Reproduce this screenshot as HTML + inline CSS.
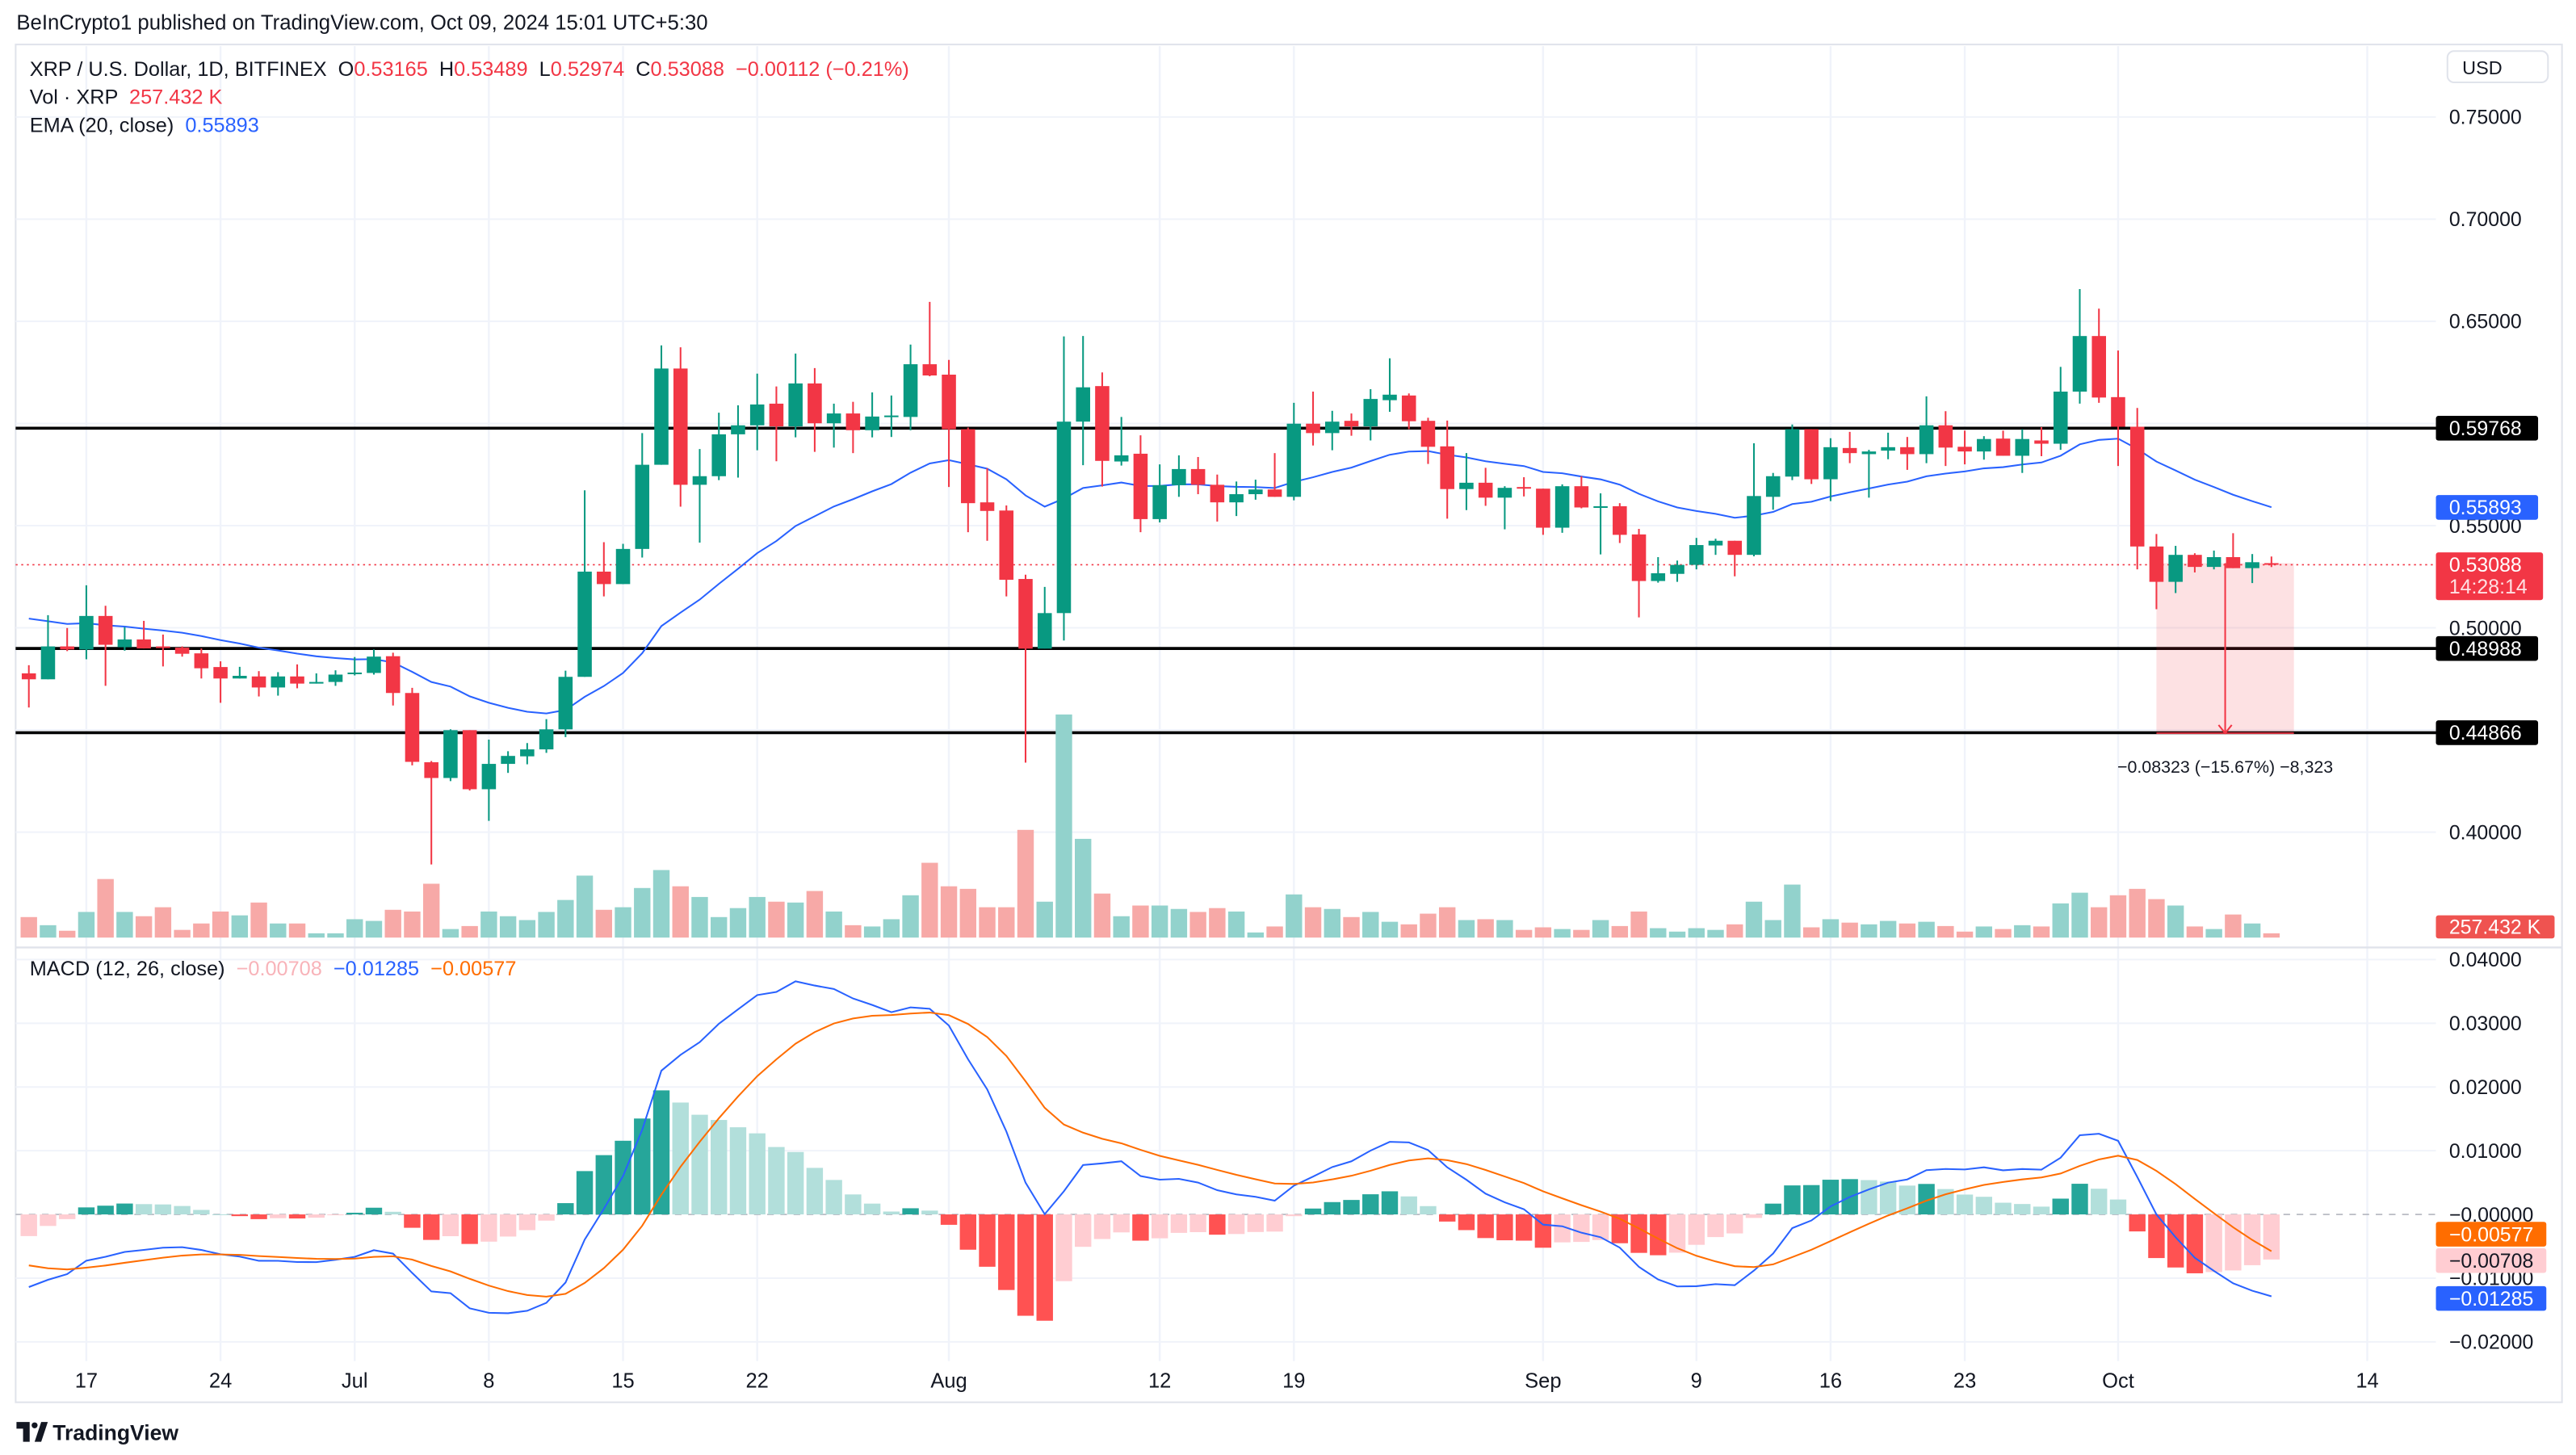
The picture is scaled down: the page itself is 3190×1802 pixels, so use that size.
<!DOCTYPE html>
<html><head><meta charset="utf-8"><title>XRP/USD chart</title>
<style>
html,body{margin:0;padding:0;background:#fff;}
svg{display:block;font-family:"Liberation Sans",sans-serif;}
.pre{white-space:pre;}
</style></head>
<body>
<svg id="chart" width="3190" height="1802" viewBox="0 0 1563 883" preserveAspectRatio="none" xmlns="http://www.w3.org/2000/svg">
<rect x="0" y="0" width="1563" height="883" fill="#ffffff"/>
<text x="10" y="18" font-size="12.6" fill="#131722">BeInCrypto1 published on TradingView.com, Oct 09, 2024 15:01 UTC+5:30</text>
<rect x="9.5" y="27" width="1545" height="824" fill="none" stroke="#e0e3eb" stroke-width="1"/>
<g id="grid"></g>
<g id="levels"></g>
<g id="volume"></g>
<g id="measure"></g>
<g id="ema"></g>
<g id="candles"></g>
<g id="macd"></g>
<line x1="9.5" y1="575" x2="1554.5" y2="575" stroke="#e0e3eb" stroke-width="1.2"/>
<g id="axis"></g>
<g>
<text class="pre" x="18" y="46" font-size="12.4" fill="#131722">XRP / U.S. Dollar, 1D, BITFINEX  O<tspan fill="#f23645">0.53165</tspan>  H<tspan fill="#f23645">0.53489</tspan>  L<tspan fill="#f23645">0.52974</tspan>  C<tspan fill="#f23645">0.53088</tspan>  <tspan fill="#f23645">−0.00112 (−0.21%)</tspan></text>
<text class="pre" x="18" y="63" font-size="12.4" fill="#131722">Vol · XRP  <tspan fill="#f23645">257.432 K</tspan></text>
<text class="pre" x="18" y="80" font-size="12.4" fill="#131722">EMA (20, close)  <tspan fill="#2962ff">0.55893</tspan></text>
<text class="pre" x="18" y="592" font-size="12.4" fill="#131722">MACD (12, 26, close)  <tspan fill="#f8b3b9">−0.00708</tspan>  <tspan fill="#2962ff">−0.01285</tspan>  <tspan fill="#ff6d00">−0.00577</tspan></text>
</g>
<g>
<rect x="1485" y="31" width="61" height="19" rx="4" fill="#fff" stroke="#e0e3eb" stroke-width="1"/>
<text x="1494" y="45" font-size="11.5" fill="#131722">USD</text>
</g>
<g>
<path d="M10 863 h8 v12 h-4 v-8 h-4z M21 875 l4 -12 h4 l-4 12z" fill="#131722"/>
<circle cx="21" cy="865" r="1.8" fill="#131722"/>
<text x="32" y="874" font-size="13" font-weight="bold" fill="#131722">TradingView</text>
</g>
</svg>
<script>
const open=[.4777,.4748,.4909,.4894,.5058,.4905,.4943,.4909,.4903,.4875,.4808,.4752,.4762,.4708,.4762,.4727,.4735,.4775,.4779,.4861,.4681,.4342,.4265,.4499,.4210,.4334,.4371,.4405,.4503,.4760,.5275,.5214,.5386,.5798,.6269,.5700,.5742,.5947,.5991,.6097,.5986,.6196,.6001,.6049,.5967,.6032,.6032,.6290,.6239,.5972,.5614,.5574,.5239,.4898,.5072,.6009,.6183,.5814,.5852,.5532,.5698,.5777,.5700,.5614,.5654,.5677,.5641,.5999,.5953,.6013,.5986,.6114,.6137,.6013,.5888,.5679,.5710,.5637,.5689,.5681,.5490,.5693,.5589,.5595,.5457,.5229,.5264,.5308,.5403,.5426,.5357,.5641,.5740,.5972,.5727,.5880,.5850,.5867,.5884,.5850,.5991,.5886,.5863,.5926,.5842,.5917,.5901,.6156,.6428,.6129,.5984,.5398,.5225,.5357,.5298,.5346,.5292,.53165];
const high=[.4817,.5062,.4999,.5208,.5108,.5003,.5034,.4967,.4909,.4899,.4836,.4809,.4788,.4783,.4821,.4777,.4792,.4857,.4894,.4878,.4706,.4348,.4503,.4499,.4453,.4396,.4436,.4553,.4790,.5673,.5419,.5411,.5953,.6382,.6373,.5875,.6053,.6089,.6244,.6181,.6342,.6271,.6097,.6106,.6152,.6137,.6386,.6595,.6311,.5980,.5781,.5599,.5260,.5200,.6426,.6428,.6250,.6032,.5942,.5800,.5844,.5836,.5750,.5716,.5725,.5855,.6101,.6156,.6062,.6049,.6168,.6319,.6147,.6028,.6014,.5855,.5783,.5693,.5737,.5681,.5702,.5742,.5658,.5610,.5484,.5346,.5329,.5440,.5436,.5426,.5903,.5758,.5995,.5972,.5928,.5959,.5871,.5955,.5934,.6133,.6060,.5965,.5938,.5965,.5972,.5982,.6277,.6658,.6562,.6357,.6076,.5459,.5401,.5365,.5378,.5463,.5361,.53489];
const low=[.4610,.4748,.4886,.4846,.4716,.4888,.4899,.4811,.4859,.4752,.4633,.4752,.4664,.4668,.4704,.4727,.4716,.4767,.4771,.4620,.4327,.3842,.4250,.4204,.4055,.4290,.4332,.4388,.4465,.4760,.5154,.5214,.5344,.5798,.5593,.5417,.5723,.5735,.5869,.5815,.5932,.5861,.5882,.5855,.5932,.5934,.5967,.6231,.5689,.5468,.5426,.5154,.4340,.4899,.4938,.5796,.5691,.5794,.5468,.5516,.5641,.5654,.5520,.5547,.5627,.5641,.5624,.5892,.5869,.5940,.5917,.6057,.5972,.5802,.5534,.5576,.5597,.5482,.5643,.5455,.5465,.5585,.5359,.5415,.5051,.5221,.5225,.5286,.5357,.5252,.5350,.5578,.5723,.5704,.5620,.5806,.5637,.5825,.5773,.5806,.5792,.5800,.5823,.5842,.5758,.5840,.5871,.6097,.6101,.5792,.5286,.5091,.5170,.5271,.5286,.5292,.5219,.52974];
const close=[.4748,.4909,.4894,.5058,.4917,.4943,.4899,.4903,.4873,.4802,.4752,.4765,.4708,.4762,.4727,.4735,.4771,.4781,.4859,.4681,.4344,.4265,.4499,.4210,.4334,.4373,.4405,.4503,.4760,.5275,.5214,.5386,.5798,.6269,.5700,.5742,.5947,.5991,.6093,.5986,.6196,.6001,.6049,.5967,.6034,.6039,.6290,.6235,.5972,.5610,.5572,.5235,.4898,.5072,.6009,.6177,.5817,.5844,.5532,.5698,.5777,.5700,.5614,.5654,.5677,.5641,.5999,.5953,.6009,.5986,.6120,.6141,.6011,.5886,.5679,.5710,.5637,.5685,.5685,.5490,.5693,.5589,.5595,.5455,.5229,.5267,.5308,.5405,.5426,.5357,.5645,.5742,.5972,.5727,.5884,.5855,.5863,.5884,.5850,.5991,.5882,.5863,.5924,.5842,.5924,.5901,.6156,.6428,.6127,.5984,.5398,.5225,.5357,.5298,.5346,.5292,.5321,.53088];
// volume in units of ~25.7K
const volume=[48,29,16,60,137,60,50,71,18,33,61,52,82,33,33,10,10,43,39,65,61,126,20,27,61,50,41,60,88,145,65,71,116,158,120,95,48,69,95,84,82,109,61,29,26,43,99,175,120,114,71,71,252,84,522,231,103,50,75,75,67,60,69,61,12,26,101,71,67,48,60,37,31,56,71,41,43,41,18,24,20,18,41,27,61,22,14,22,18,31,84,41,124,24,43,35,31,39,33,37,27,14,26,20,29,26,80,105,71,99,114,90,75,26,20,54,33,10];
const dateLabels=["17","24","Jul","8","15","22","Aug","12","19","Sep","9","16","23","Oct","14"];
const dateIndex=[3,10,17,24,31,38,48,59,66,79,87,94,101,109,122];
const priceTicks=[0.75,0.70,0.65,0.60,0.55,0.50,0.45,0.40];
const priceTickLabels=["0.75000","0.70000","0.65000","","0.55000","0.50000","","0.40000"];
const macdTicks=[0.04,0.03,0.02,0.01,0,-0.01,-0.02];
const macdTickLabels=["0.04000","0.03000","0.02000","0.01000","−0.00000","−0.01000","−0.02000"];
const levels=[0.59768,0.48988,0.44866];
const levelLabels=["0.59768","0.48988","0.44866"];
const lastPrice=0.53088;
const emaLast=0.55893, macdLast=-0.01285, signalLast=-0.00577, histLast=-0.00708;
const measureStart=0.53165, measureDelta=-0.08323, measureFrom=111, measureTo=118;
const emaSeed=0.5045, ema12Seed=0.4872, ema26Seed=0.4986, signalSeed=-0.0080;

const NS="http://www.w3.org/2000/svg";
const PL=9.5, PR=1478;
const X=i=>17.5+i*11.63;
const Y=p=>381-(p-0.5)*1240;
const M=v=>737-v*3867;
const VB=569, VS=0.2594;
function mk(tag,attrs,parent){const e=document.createElementNS(NS,tag);for(const k in attrs)e.setAttribute(k,attrs[k]);parent.appendChild(e);return e;}
const G=id=>document.getElementById(id);

const grid=G('grid');
priceTicks.forEach(p=>{const l=mk('line',{x1:PL,x2:PR,y1:Y(p),y2:Y(p),stroke:'#f0f3fa','stroke-width':1},grid);

});
macdTicks.forEach(v=>{if(v===0)return;const l=mk('line',{x1:PL,x2:PR,y1:M(v),y2:M(v),stroke:'#f0f3fa','stroke-width':1},grid);

});
dateIndex.forEach(i=>{const l=mk('line',{x1:X(i),x2:X(i),y1:28,y2:826,stroke:'#f0f3fa','stroke-width':1.2},grid);

});

const vg=G('volume');
volume.forEach((v,i)=>{const up=close[i]>=open[i];const h=v*VS;
const r=mk('rect',{x:X(i)-5,y:VB-h,width:10,height:h,fill:up?'#92d2cc':'#f7a9a7'},vg);

});

const lg=G('levels');
levels.forEach(p=>{const l=mk('line',{x1:PL,x2:PR,y1:Y(p),y2:Y(p),stroke:'#000','stroke-width':1.8},lg);

});
const pl=mk('line',{x1:PL,x2:PR,y1:Y(lastPrice),y2:Y(lastPrice),stroke:'#f23645','stroke-width':0.8,'stroke-dasharray':'1.2 2.2'},lg);



const mg=G('measure');
const mx1=X(measureFrom), mx2=X(measureTo)+2, my1=Y(measureStart), my2=Y(measureStart+measureDelta);
const mr=mk('rect',{x:mx1,y:my1,width:mx2-mx1,height:my2-my1,fill:'rgba(242,54,69,0.15)'},mg);


const mxm=(mx1+mx2)/2;
const ma=mk('line',{x1:mxm,x2:mxm,y1:my1,y2:my2,stroke:'#f23645','stroke-width':1},mg);


const mh=mk('path',{d:`M${mxm-4} ${my2-5} L${mxm} ${my2} L${mxm+4} ${my2-5}`,fill:'none',stroke:'#f23645','stroke-width':1},mg);


const mb=mk('line',{x1:mx1,x2:mx2,y1:my2,y2:my2,stroke:'#f23645','stroke-width':0.8},mg);


const mt=mk('text',{x:mxm,y:my2+24,'font-size':10.5,fill:'#131722','text-anchor':'middle'},mg);
mt.textContent='−0.08323 (−15.67%) −8,323';



const k20=2/21;let e=emaSeed;const ema=[];
close.forEach((c,i)=>{if(i>0)e=c*k20+e*(1-k20);ema.push(e);});
const ep=mk('polyline',{points:ema.map((v,i)=>X(i)+','+Y(v)).join(' '),fill:'none',stroke:'#2962ff','stroke-width':1},G('ema'));



const cg=G('candles');
close.forEach((c,i)=>{const o=open[i];const up=c>=o;const col=up?'#089981':'#f23645';
const g=mk('g',{},cg);


mk('line',{x1:X(i),x2:X(i),y1:Y(high[i]),y2:Y(low[i]),stroke:col,'stroke-width':1},g);
const t=Y(Math.max(o,c)),b=Y(Math.min(o,c));
mk('rect',{x:X(i)-4.3,y:t,width:8.6,height:Math.max(b-t,1),fill:col},g);});

const k12=2/13,k26=2/27,k9=2/10;let a=ema12Seed,bb=ema26Seed,s=signalSeed;
const macd=[],sig=[],hist=[];
close.forEach((c,i)=>{if(i>0){a=c*k12+a*(1-k12);bb=c*k26+bb*(1-k26);}const m=a-bb;if(i>0)s=m*k9+s*(1-k9);macd.push(m);sig.push(s);hist.push(m-s);});
const hg=G('macd');
const zl=mk('line',{x1:PL,x2:PR,y1:M(0),y2:M(0),stroke:'#b2b5be','stroke-width':0.8,'stroke-dasharray':'4 4'},hg);


hist.forEach((h,i)=>{const prev=i>0?hist[i-1]:h;let col;
if(h>=0)col=h>prev?'#26a69a':'#b2dfdb';else col=h<prev?'#ff5252':'#ffcdd2';
const y1=Math.min(M(0),M(h)),hh=Math.abs(M(h)-M(0));
const r=mk('rect',{x:X(i)-5,y:y1,width:10,height:Math.max(hh,0.5),fill:col},hg);

});
const ml=mk('polyline',{points:macd.map((v,i)=>X(i)+','+M(v)).join(' '),fill:'none',stroke:'#2962ff','stroke-width':1},hg);


const sl=mk('polyline',{points:sig.map((v,i)=>X(i)+','+M(v)).join(' '),fill:'none',stroke:'#ff6d00','stroke-width':1},hg);



const ax=G('axis');
function lab(x,y,txt,size,fill,anchor){const t=mk('text',{x:x,y:y,'font-size':size,fill:fill,'text-anchor':anchor||'start'},ax);t.textContent=txt;return t;}
priceTicks.forEach((p,i)=>{if(!priceTickLabels[i])return;const t=lab(1486,Y(p)+4.3,priceTickLabels[i],12.2,'#131722');

});
macdTicks.forEach((v,i)=>{const t=lab(1486,M(v)+4.3,macdTickLabels[i],12.2,'#131722');

});
dateIndex.forEach((di,i)=>{const t=lab(X(di),842,dateLabels[i],12.5,'#131722','middle');

});
function box(y,h,w,fill,txt,tcol,name){const g=mk('g',{},ax);


mk('rect',{x:1478,y:y-h/2,width:w,height:h,rx:1.5,fill:fill},g);
const t=mk('text',{x:1486,y:y+4.3,'font-size':12.2,fill:tcol},g);t.textContent=txt;return g;}
const fmt=v=>(v<0?'−':'')+Math.abs(v).toFixed(5);
levels.forEach((p,i)=>box(Y(p),15,62,'#000',levelLabels[i],'#fff','level-price-label'));
box(Y(emaLast),15,62,'#2962ff',fmt(emaLast),'#fff','ema-price-label');
const cp=mk('g',{},ax);


mk('rect',{x:1478,y:Y(lastPrice)-7.5,width:65,height:29,rx:1.5,fill:'#f23645'},cp);
const c1=mk('text',{x:1486,y:Y(lastPrice)+4.3,'font-size':12.2,fill:'#fff'},cp);c1.textContent=lastPrice.toFixed(5);
const c2=mk('text',{x:1486,y:Y(lastPrice)+17.5,'font-size':12.2,fill:'#ffe0e3'},cp);c2.textContent='14:28:14';
box(VB-6.5,14,72,'#ef5350','257.432 K','#fff','volume-label');
box(749,15,67,'#ff6d00',fmt(signalLast),'#fff','signal-value-label');
box(765,15,67,'#ffcdd2',fmt(histLast),'#131722','histogram-value-label');
box(788,15,67,'#2962ff',fmt(macdLast),'#fff','macd-value-label');
</script>
</body></html>
